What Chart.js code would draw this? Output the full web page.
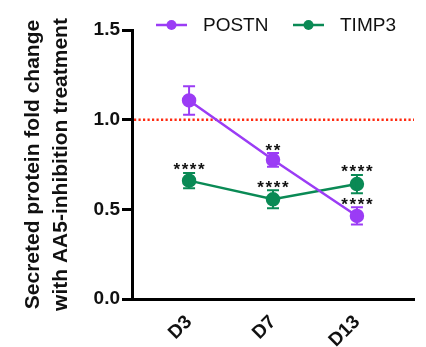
<!DOCTYPE html>
<html><head><meta charset="utf-8">
<script src="https://cdn.jsdelivr.net/npm/chart.js@4/dist/chart.umd.min.js"></script>
<style>html,body{margin:0;padding:0;background:#fff}#wrap{width:426px;height:347px}</style>
</head><body><div id="wrap"><canvas id="c" width="426" height="347"></canvas></div>
<script>
const categories = ['D3', 'D7', 'D13'];
const postnValues = [1.107, 0.776, 0.463];
const postnErrors = [0.08, 0.038, 0.048];
const postnSig = ['', '**', '****'];
const timp3Values = [0.660, 0.556, 0.641];
const timp3Errors = [0.043, 0.05, 0.051];
const timp3Sig = ['****', '****', '****'];
const yTicks = [0, 0.5, 1.0, 1.5];
const referenceLine = 1.0;

const PURPLE = '#9b3cf5';
const GREEN = '#0a8a55';

function pts(vals){ return vals.map((v,i)=>({x:i,y:v})); }

const errorBars = {
  id:'errorBars',
  afterDatasetsDraw(chart){
    const {ctx, scales:{x,y}} = chart;
    chart.data.datasets.forEach(ds=>{
      ctx.save();
      ctx.strokeStyle = ds.borderColor; ctx.lineWidth = 2;
      ds.data.forEach((p,i)=>{
        const e = ds.errors[i];
        const px = x.getPixelForValue(p.x);
        const yt = y.getPixelForValue(p.y+e), yb = y.getPixelForValue(p.y-e);
        ctx.beginPath();
        ctx.moveTo(px,yt); ctx.lineTo(px,yb);
        ctx.moveTo(px-6,yt); ctx.lineTo(px+6,yt);
        ctx.moveTo(px-6,yb); ctx.lineTo(px+6,yb);
        ctx.stroke();
        const s = ds.sig[i];
        if (s){
          ctx.fillStyle = '#111';
          ctx.font = 'bold 17px "Liberation Sans", Arial, sans-serif';
          ctx.letterSpacing = '1.6px';
          ctx.textAlign = 'center'; ctx.textBaseline = 'alphabetic';
          ctx.fillText(s, px+0.8, yt+2.5);
        }
      });
      ctx.restore();
    });
  }
};

const refLine = {
  id:'refLine',
  beforeDatasetsDraw(chart){
    const {ctx, chartArea:a, scales:{y}} = chart;
    const py = y.getPixelForValue(referenceLine);
    ctx.save();
    ctx.strokeStyle = '#ff2a10'; ctx.lineWidth = 2.5;
    ctx.setLineDash([2.2,2.3]);
    ctx.beginPath(); ctx.moveTo(a.left+2,py); ctx.lineTo(a.right,py); ctx.stroke();
    ctx.restore();
  }
};

const legendPlugin = {
  id:'customLegend',
  afterDraw(chart){
    const {ctx} = chart;
    const items = [{x:156, ds:chart.data.datasets[0]},{x:293, ds:chart.data.datasets[1]}];
    ctx.save();
    items.forEach(it=>{
      const yy = 25;
      ctx.strokeStyle = it.ds.borderColor; ctx.lineWidth = 2.5;
      ctx.beginPath(); ctx.moveTo(it.x,yy); ctx.lineTo(it.x+31,yy); ctx.stroke();
      ctx.fillStyle = it.ds.borderColor;
      ctx.beginPath(); ctx.arc(it.x+15.5,yy,5,0,Math.PI*2); ctx.fill();
      ctx.fillStyle = '#111';
      ctx.font = '19px "Liberation Sans", Arial, sans-serif';
      ctx.textAlign='left'; ctx.textBaseline='middle';
      ctx.fillText(it.ds.label, it.x+47, yy+1);
    });
    ctx.restore();
  }
};

new Chart(document.getElementById('c'), {
  type:'line',
  data:{datasets:[
    {label:'POSTN', data:pts(postnValues), errors:postnErrors, sig:postnSig,
     borderColor:PURPLE, backgroundColor:PURPLE, borderWidth:2.5, pointRadius:6, pointHoverRadius:6},
    {label:'TIMP3', data:pts(timp3Values), errors:timp3Errors, sig:timp3Sig,
     borderColor:GREEN, backgroundColor:GREEN, borderWidth:2.5, pointRadius:6, pointHoverRadius:6}
  ]},
  options:{
    responsive:false, animation:false, devicePixelRatio:1,
    layout:{padding:{top:30,right:12,left:0,bottom:0}},
    plugins:{legend:{display:false}, tooltip:{enabled:false}},
    scales:{
      x:{type:'linear', min:-0.68, max:2.68,
         afterBuildTicks(s){ s.ticks = categories.map((c,i)=>({value:i})); },
         afterFit(s){ s.height = 48; },
         ticks:{callback:(v)=>categories[v], maxRotation:45, minRotation:45, padding:4,
                color:'#111', font:{family:'"Liberation Sans", Arial, sans-serif', size:19, weight:'bold'}},
         grid:{display:false},
         border:{display:true, color:'#000', width:3}},
      y:{min:0, max:1.5,
         afterBuildTicks(s){ s.ticks = yTicks.map(v=>({value:v})); },
         afterFit(s){ s.width = 132; },
         ticks:{callback:(v)=>v.toFixed(1), padding:2, color:'#111',
                font:{family:'"Liberation Sans", Arial, sans-serif', size:19, weight:'bold'}},
         grid:{drawOnChartArea:false, drawTicks:true, tickLength:10, tickWidth:3, tickColor:'#000'},
         border:{display:true, color:'#000', width:3},
         title:{display:true, text:['Secreted protein fold change','with AA5-inhibition treatment'],
                color:'#111', padding:{top:19,bottom:0},
                font:{family:'"Liberation Sans", Arial, sans-serif', size:21, weight:'bold', lineHeight:1.35}}}
    }
  },
  plugins:[refLine, errorBars, legendPlugin]
});
</script></body></html>
